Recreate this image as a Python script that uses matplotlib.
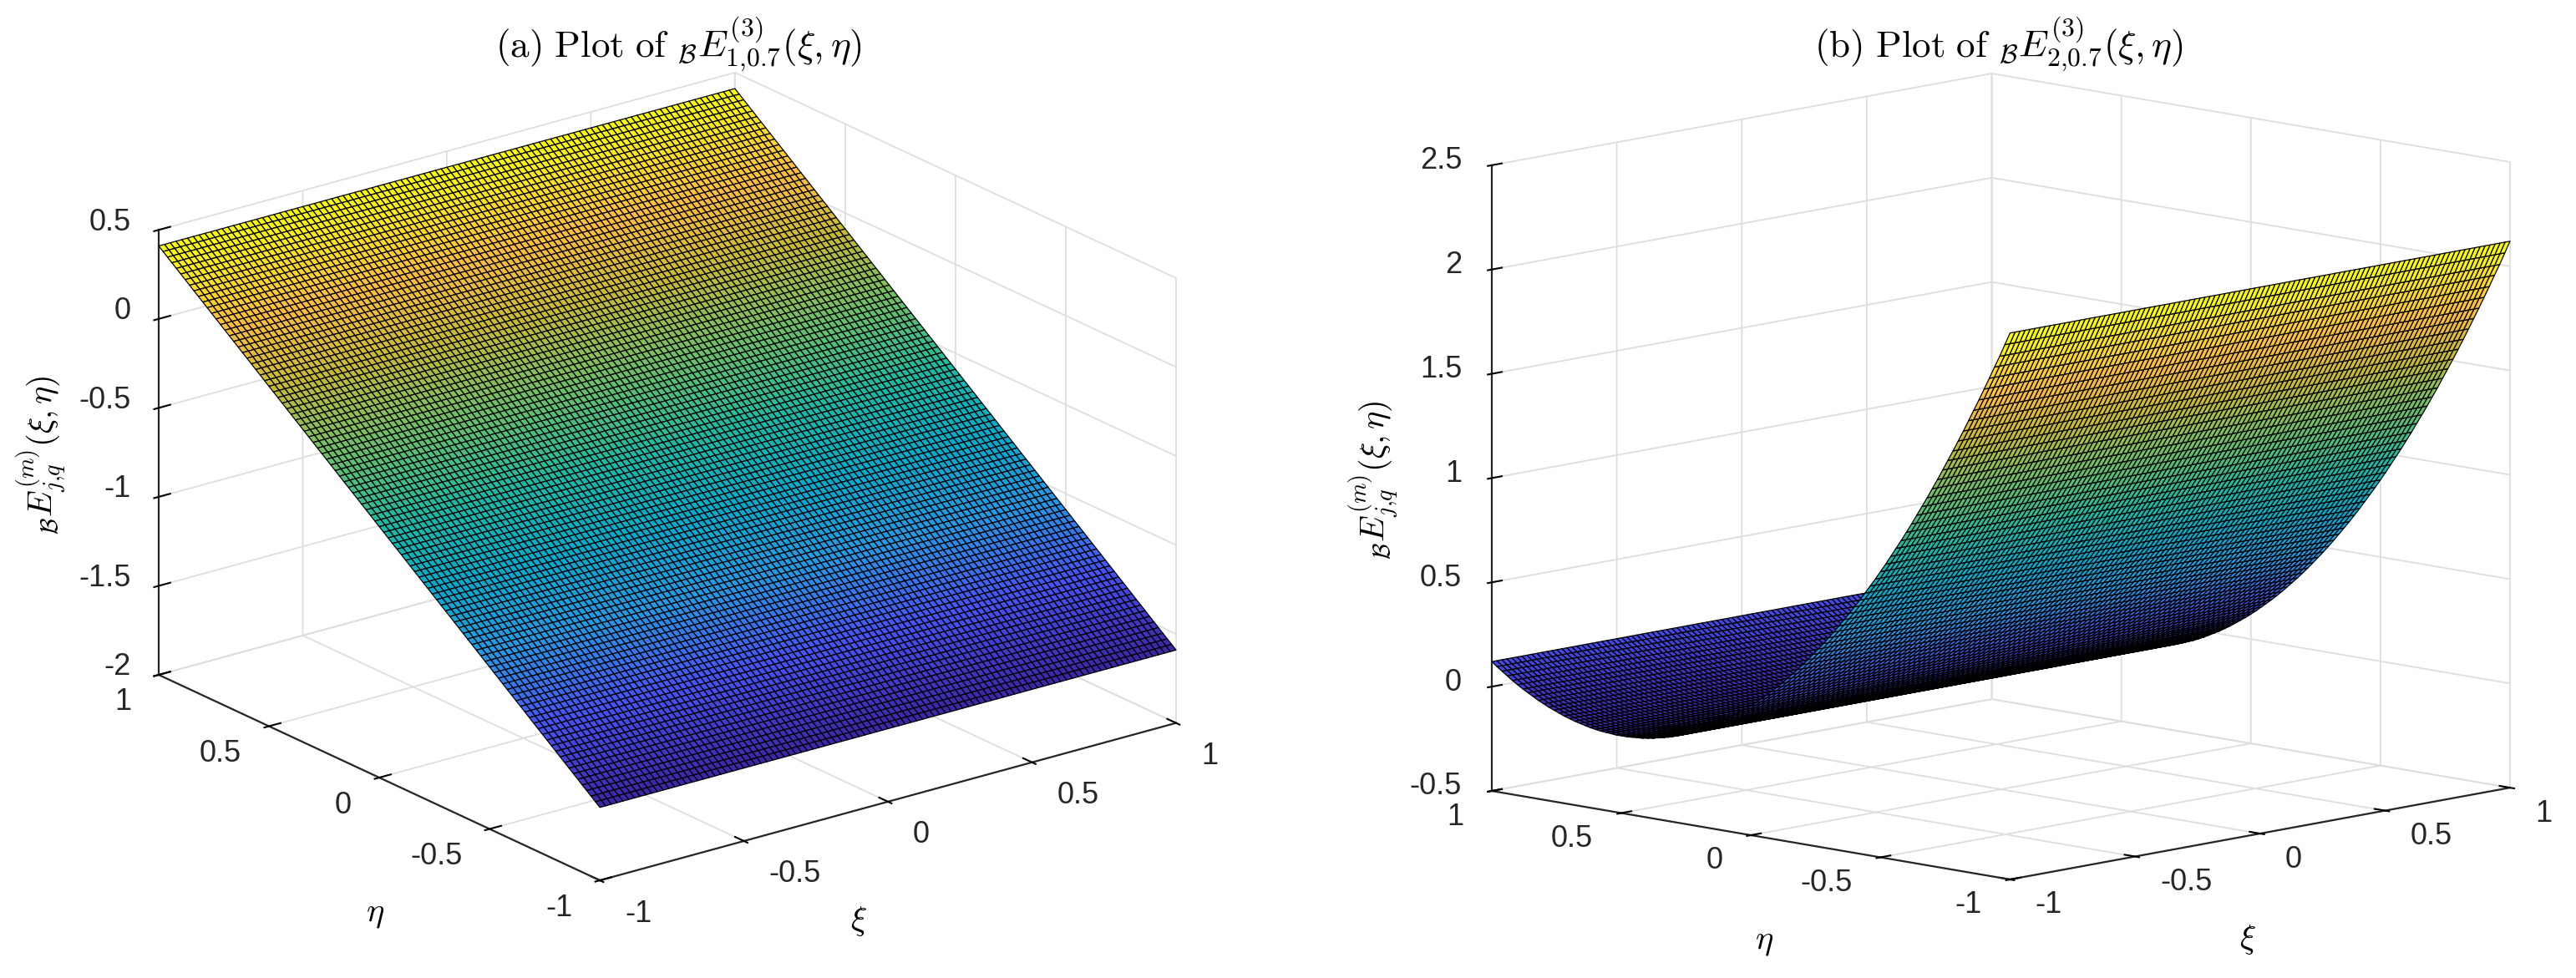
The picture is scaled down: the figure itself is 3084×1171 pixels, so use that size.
import matplotlib
matplotlib.use('Agg')
import matplotlib.pyplot as plt
import numpy as np
from matplotlib.colors import LinearSegmentedColormap
from mpl_toolkits.mplot3d import proj3d

W, H = 3084, 1171

# surface heights along eta (-1 .. 1, step 0.02); no xi dependence
eta_grid = np.arange(-50, 51) / 50
xi_grid = np.arange(-50, 51) / 50

profile_a = [-1.59, -1.57, -1.55, -1.53, -1.51, -1.49, -1.47, -1.45, -1.43, -1.41,
             -1.39, -1.37, -1.35, -1.33, -1.31, -1.29, -1.27, -1.25, -1.23, -1.21,
             -1.19, -1.17, -1.15, -1.13, -1.11, -1.09, -1.07, -1.05, -1.03, -1.01,
             -0.99, -0.97, -0.95, -0.93, -0.91, -0.89, -0.87, -0.85, -0.83, -0.81,
             -0.79, -0.77, -0.75, -0.73, -0.71, -0.69, -0.67, -0.65, -0.63, -0.61,
             -0.59, -0.57, -0.55, -0.53, -0.51, -0.49, -0.47, -0.45, -0.43, -0.41,
             -0.39, -0.37, -0.35, -0.33, -0.31, -0.29, -0.27, -0.25, -0.23, -0.21,
             -0.19, -0.17, -0.15, -0.13, -0.11, -0.09, -0.07, -0.05, -0.03, -0.01,
             0.01, 0.03, 0.05, 0.07, 0.09, 0.11, 0.13, 0.15, 0.17, 0.19,
             0.21, 0.23, 0.25, 0.27, 0.29, 0.31, 0.33, 0.35, 0.37, 0.39, 0.41]
profile_b = [2.12, 2.06, 2.00, 1.944, 1.886, 1.83, 1.774, 1.72, 1.666, 1.612,
             1.56, 1.508, 1.458, 1.408, 1.358, 1.31, 1.262, 1.216, 1.17, 1.124,
             1.08, 1.036, 0.994, 0.952, 0.91, 0.87, 0.83, 0.792, 0.754, 0.716,
             0.68, 0.644, 0.61, 0.576, 0.542, 0.51, 0.478, 0.448, 0.418, 0.388,
             0.36, 0.332, 0.306, 0.28, 0.254, 0.23, 0.206, 0.184, 0.162, 0.14,
             0.12, 0.1, 0.082, 0.064, 0.046, 0.03, 0.014, 0.0, -0.014, -0.028,
             -0.04, -0.052, -0.062, -0.072, -0.082, -0.09, -0.098, -0.104, -0.11, -0.116,
             -0.12, -0.124, -0.126, -0.128, -0.13, -0.13, -0.13, -0.128, -0.126, -0.124,
             -0.12, -0.116, -0.11, -0.104, -0.098, -0.09, -0.082, -0.072, -0.062, -0.052,
             -0.04, -0.028, -0.014, 0.0, 0.014, 0.03, 0.046, 0.064, 0.082, 0.1, 0.12]

xy_ticks = [-1, -0.5, 0, 0.5, 1]
xy_labels = ['-1', '-0.5', '0', '0.5', '1']
z_ticks_a = [-2, -1.5, -1, -0.5, 0, 0.5]
z_labels_a = ['-2', '-1.5', '-1', '-0.5', '0', '0.5']
z_ticks_b = [-0.5, 0, 0.5, 1, 1.5, 2, 2.5]
z_labels_b = ['-0.5', '0', '0.5', '1', '1.5', '2', '2.5']

parula_colors = [(0.0, (0.2422, 0.1504, 0.6603)), (0.14, (0.281, 0.323, 0.958)),
                 (0.27, (0.141, 0.60, 0.90)), (0.39, (0.02, 0.67, 0.80)),
                 (0.50, (0.10, 0.73, 0.65)), (0.62, (0.40, 0.75, 0.42)),
                 (0.75, (0.78, 0.73, 0.20)), (0.86, (0.99, 0.74, 0.24)),
                 (1.0, (0.976, 0.983, 0.054))]
parula = LinearSegmentedColormap.from_list('parula', parula_colors)

plt.rcParams['font.family'] = ['Liberation Sans', 'DejaVu Sans']
plt.rcParams['mathtext.fontset'] = 'cm'
plt.rcParams['grid.color'] = '#dedede'
plt.rcParams['grid.linewidth'] = 1.3


def px_text(fig, x, y, s, **kw):
    return fig.text(x / W, 1 - y / H, s, **kw)


def make_axes(fig, profile, zlim, zticks, elev, azim, box):
    ax = fig.add_axes([0, 0, 0.3, 0.3 * W / H], projection='3d', proj_type='ortho')
    ax.patch.set_alpha(0)
    X, Y = np.meshgrid(xi_grid, eta_grid)
    Z = np.tile(np.array(profile)[:, None], (1, len(xi_grid)))
    ax.plot_surface(X, Y, Z, cmap=parula, rstride=1, cstride=1, shade=False,
                    edgecolor='k', linewidth=0.9, antialiased=True)
    ax.set_xlim(-1, 1)
    ax.set_ylim(-1, 1)
    ax.set_zlim(*zlim)
    ax.set_xticks(xy_ticks, labels=[''] * len(xy_ticks))
    ax.set_yticks(xy_ticks, labels=[''] * len(xy_ticks))
    ax.set_zticks(zticks, labels=[''] * len(zticks))
    ax.set_box_aspect(box)
    ax.view_init(elev=elev, azim=azim)
    for axis in (ax.xaxis, ax.yaxis, ax.zaxis):
        axis.pane.set_visible(False)
        axis.line.set_color('#262626')
        axis.line.set_linewidth(1.6)
        axis._axinfo['tick']['inward_factor'] = 0.1
        axis._axinfo['tick']['outward_factor'] = 0.25
        axis._axinfo['tick']['linewidth'] = {True: 1.5, False: 1.0}
        axis._axinfo['tick']['color'] = '#262626'
    ax.zaxis.set_ticks_position('upper')
    return ax


def to_px(ax, x, y, z):
    x2, y2, _ = proj3d.proj_transform(x, y, z, ax.get_proj())
    return ax.transData.transform((x2, y2))


def fit_axes(fig, ax, corner_l, corner_r, px_l, px_r):
    # move/scale the square axes so two box corners land on the wanted pixels
    for i in range(3):
        fig.canvas.draw()
        p0 = to_px(ax, *corner_l)
        p1 = to_px(ax, *corner_r)
        pos = ax.get_position()
        side = pos.width * W
        scale = (px_r[0] - px_l[0]) / (p1[0] - p0[0])
        cx = pos.x0 * W + side / 2
        cy = pos.y0 * H + pos.height * H / 2
        new_cx = px_l[0] - (p0[0] - cx) * scale
        new_cy = (H - px_l[1]) - (p0[1] - cy) * scale
        side *= scale
        ax.set_position([(new_cx - side / 2) / W, (new_cy - side / 2) / H, side / W, side / H])


def tick_labels(fig, ax, zticks, zlabels, xoff, yoff, zoff):
    # matlab style tick text, placed from the tick's own projected position
    fig.canvas.draw()
    zmin = ax.get_zlim()[0]
    kw = dict(fontsize=26, color='#262626', va='center')
    for t, s in zip(xy_ticks, xy_labels):
        p = to_px(ax, t, -1, zmin)
        fig.text((p[0] + xoff[0]) / W, (p[1] - xoff[1]) / H, s, ha='left', **kw)
        p = to_px(ax, -1, t, zmin)
        fig.text((p[0] + yoff[0]) / W, (p[1] - yoff[1]) / H, s, ha='right', **kw)
    for t, s in zip(zticks, zlabels):
        p = to_px(ax, -1, 1, t)
        fig.text((p[0] + zoff[0]) / W, (p[1] - zoff[1]) / H, s, ha='right', **kw)


fig = plt.figure(figsize=(W / 100, H / 100), dpi=100)

ax1 = make_axes(fig, profile_a, (-2, 0.5), z_ticks_a, 20.9, 232.56, (870, 870, 571))
fit_axes(fig, ax1, (-1, 1, -2), (1, -1, -2), (190, 808), (1408, 862))
tick_labels(fig, ax1, z_ticks_a, z_labels_a, (30, 40), (-33, 33), (-33, -9))
ax2 = make_axes(fig, profile_b, (-0.5, 2.5), z_ticks_b, 10.2, 223.97, (863, 863, 762))
fit_axes(fig, ax2, (-1, 1, -0.5), (1, -1, -0.5), (1786, 947), (3005, 940))
tick_labels(fig, ax2, z_ticks_b, z_labels_b, (30, 31), (-34, 31), (-36, -5))

title_a = r'$\mathrm{(a)\ Plot\ of\ }{}_{\mathcal{B}}E_{1{,}0.7}^{(3)}(\xi,\eta)$'
title_b = r'$\mathrm{(b)\ Plot\ of\ }{}_{\mathcal{B}}E_{2{,}0.7}^{(3)}(\xi,\eta)$'
zlab = r'${}_{\mathcal{B}}E_{j{,}q}^{(m)}(\xi,\eta)$'
px_text(fig, 812, 68, title_a, fontsize=32.5, ha='center', va='baseline')
px_text(fig, 2393, 68, title_b, fontsize=32.5, ha='center', va='baseline')
px_text(fig, 50, 545, zlab, fontsize=29, rotation=90, ha='center', va='center')
px_text(fig, 1645, 575, zlab, fontsize=29, rotation=90, ha='center', va='center')
px_text(fig, 449, 1095, r'$\eta$', fontsize=29, ha='center', va='center')
px_text(fig, 1028, 1103, r'$\xi$', fontsize=29, ha='center', va='center')
px_text(fig, 2112, 1128, r'$\eta$', fontsize=29, ha='center', va='center')
px_text(fig, 2691, 1125, r'$\xi$', fontsize=29, ha='center', va='center')

fig.savefig('out.png', dpi=100)
